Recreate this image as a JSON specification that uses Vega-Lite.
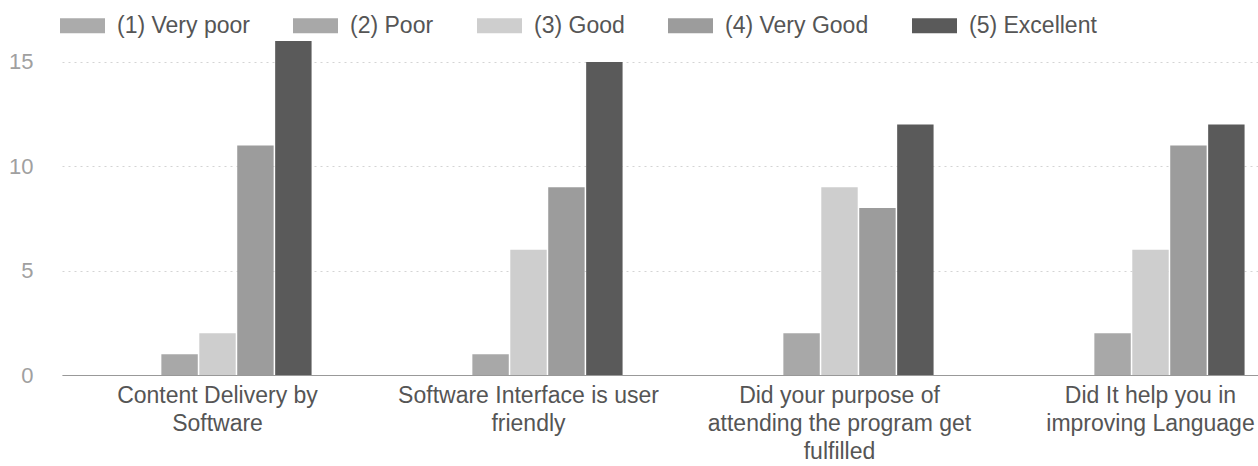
{
  "$schema": "https://vega.github.io/schema/vega-lite/v6.json",
  "width": 1196,
  "height": 334,
  "autosize": {"type": "none"},
  "padding": {"left": 62, "top": 41, "right": 0, "bottom": 91},
  "background": "white",
  "config": {
    "font": "Liberation Sans",
    "view": {"stroke": null}
  },
  "data": {
    "values": [
      {"question": "Content Delivery by Software", "rating": "(1) Very poor", "count": 0},
      {"question": "Content Delivery by Software", "rating": "(2) Poor", "count": 1},
      {"question": "Content Delivery by Software", "rating": "(3) Good", "count": 2},
      {"question": "Content Delivery by Software", "rating": "(4) Very Good", "count": 11},
      {"question": "Content Delivery by Software", "rating": "(5) Excellent", "count": 16},
      {"question": "Software Interface is user friendly", "rating": "(1) Very poor", "count": 0},
      {"question": "Software Interface is user friendly", "rating": "(2) Poor", "count": 1},
      {"question": "Software Interface is user friendly", "rating": "(3) Good", "count": 6},
      {"question": "Software Interface is user friendly", "rating": "(4) Very Good", "count": 9},
      {"question": "Software Interface is user friendly", "rating": "(5) Excellent", "count": 15},
      {"question": "Did your purpose of attending the program get fulfilled", "rating": "(1) Very poor", "count": 0},
      {"question": "Did your purpose of attending the program get fulfilled", "rating": "(2) Poor", "count": 2},
      {"question": "Did your purpose of attending the program get fulfilled", "rating": "(3) Good", "count": 9},
      {"question": "Did your purpose of attending the program get fulfilled", "rating": "(4) Very Good", "count": 8},
      {"question": "Did your purpose of attending the program get fulfilled", "rating": "(5) Excellent", "count": 12},
      {"question": "Did It help you in improving Language", "rating": "(1) Very poor", "count": 0},
      {"question": "Did It help you in improving Language", "rating": "(2) Poor", "count": 2},
      {"question": "Did It help you in improving Language", "rating": "(3) Good", "count": 6},
      {"question": "Did It help you in improving Language", "rating": "(4) Very Good", "count": 11},
      {"question": "Did It help you in improving Language", "rating": "(5) Excellent", "count": 12}
    ]
  },
  "mark": {"type": "bar"},
  "encoding": {
    "x": {
      "field": "question",
      "type": "nominal",
      "sort": [
        "Content Delivery by Software",
        "Software Interface is user friendly",
        "Did your purpose of attending the program get fulfilled",
        "Did It help you in improving Language"
      ],
      "scale": {"range": [0, 1244], "paddingInner": 0.395, "paddingOuter": 0.1975},
      "axis": {
        "title": null,
        "labelAngle": 0,
        "ticks": false,
        "domain": true,
        "domainColor": "#999999",
        "domainWidth": 1,
        "labelFont": "Liberation Sans",
        "labelFontSize": 23,
        "labelColor": "#555555",
        "labelLineHeight": 28,
        "labelPadding": 9,
        "labelLimit": 0,
        "labelExpr": "datum.value == 'Content Delivery by Software' ? ['Content Delivery by', 'Software'] : datum.value == 'Software Interface is user friendly' ? ['Software Interface is user', 'friendly'] : datum.value == 'Did your purpose of attending the program get fulfilled' ? ['Did your purpose of', 'attending the program get', 'fulfilled'] : ['Did It help you in', 'improving Language']"
      }
    },
    "xOffset": {
      "field": "rating",
      "type": "nominal",
      "sort": ["(1) Very poor", "(2) Poor", "(3) Good", "(4) Very Good", "(5) Excellent"],
      "scale": {"paddingInner": 0.04}
    },
    "y": {
      "field": "count",
      "type": "quantitative",
      "scale": {"domain": [0, 16], "nice": false},
      "axis": {
        "title": null,
        "values": [0, 5, 10, 15],
        "ticks": false,
        "domain": false,
        "grid": true,
        "gridColor": "#d4d4d4",
        "gridDash": [2, 4],
        "labelFont": "Liberation Sans",
        "labelFontSize": 22,
        "labelColor": "#a0a0a0",
        "labelPadding": 29
      }
    },
    "color": {
      "field": "rating",
      "type": "nominal",
      "sort": ["(1) Very poor", "(2) Poor", "(3) Good", "(4) Very Good", "(5) Excellent"],
      "scale": {
        "domain": ["(1) Very poor", "(2) Poor", "(3) Good", "(4) Very Good", "(5) Excellent"],
        "range": ["#ababab", "#a8a8a8", "#cecece", "#9c9c9c", "#5a5a5a"]
      },
      "legend": {
        "title": null,
        "orient": "none",
        "legendX": -2,
        "legendY": -38,
        "direction": "horizontal",
        "symbolType": "M-1,-0.333H1V0.333H-1Z",
        "symbolSize": 2025,
        "symbolStrokeWidth": 0,
        "symbolOpacity": 1,
        "labelOffset": 12,
        "columnPadding": 43,
        "labelFont": "Liberation Sans",
        "labelFontSize": 23,
        "labelColor": "#555555",
        "labelLimit": 0
      }
    }
  }
}
